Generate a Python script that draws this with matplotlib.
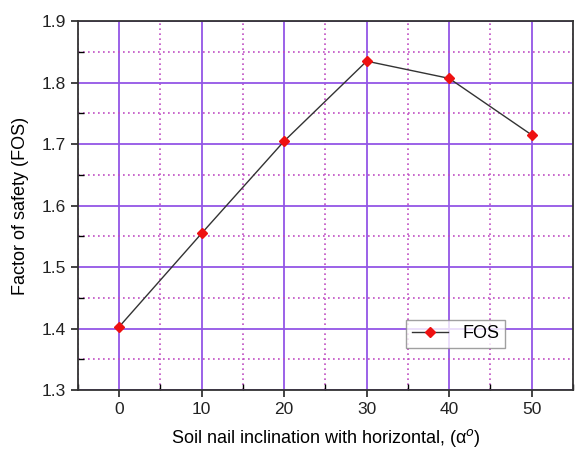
import matplotlib
matplotlib.use("Agg")
import matplotlib.pyplot as plt
from matplotlib.ticker import MultipleLocator

plt.rcParams["font.family"] = ["Liberation Sans", "DejaVu Sans"]

# Data
inclination = [0, 10, 20, 30, 40, 50]
fos = [1.403, 1.555, 1.705, 1.835, 1.807, 1.715]

MAJOR = "#9355e6"
MINOR = "#c04ec4"

fig = plt.figure(figsize=(5.77, 4.51), dpi=100)
ax = fig.add_axes([0.135, 0.135, 0.858, 0.818])

ax.plot(inclination, fos, color="#333333", lw=1.0, marker="D", ms=5.5,
        mfc="#ee1111", mec="#ee1111", label="FOS", zorder=3)

ax.set_xlim(-5, 55)
ax.set_ylim(1.3, 1.9)
ax.xaxis.set_major_locator(MultipleLocator(10))
ax.xaxis.set_minor_locator(MultipleLocator(5))
ax.yaxis.set_major_locator(MultipleLocator(0.1))
ax.yaxis.set_minor_locator(MultipleLocator(0.05))

ax.grid(which="major", color=MAJOR, lw=1.3, ls="-")
ax.grid(which="minor", color=MINOR, lw=1.2, ls=(0, (1, 2)))
ax.set_axisbelow(True)

ax.tick_params(which="major", direction="out", length=5, width=1.2,
               labelsize=12.5, colors="#222222")
ax.tick_params(which="minor", direction="in", length=4, width=1.0)
for s in ax.spines.values():
    s.set_linewidth(1.3)
    s.set_color("#333333")

ax.set_xlabel("Soil nail inclination with horizontal, (α$^{o}$)", fontsize=13,
              labelpad=7)
ax.set_ylabel("Factor of safety (FOS)", fontsize=13, labelpad=9)

leg = ax.legend(loc="upper left", bbox_to_anchor=(0.645, 0.215), fontsize=13,
                frameon=True, fancybox=False, handlelength=2.0,
                borderpad=0.3, edgecolor="#888888")
leg.get_frame().set_linewidth(1.0)

fig.savefig("out.png", dpi=100)
